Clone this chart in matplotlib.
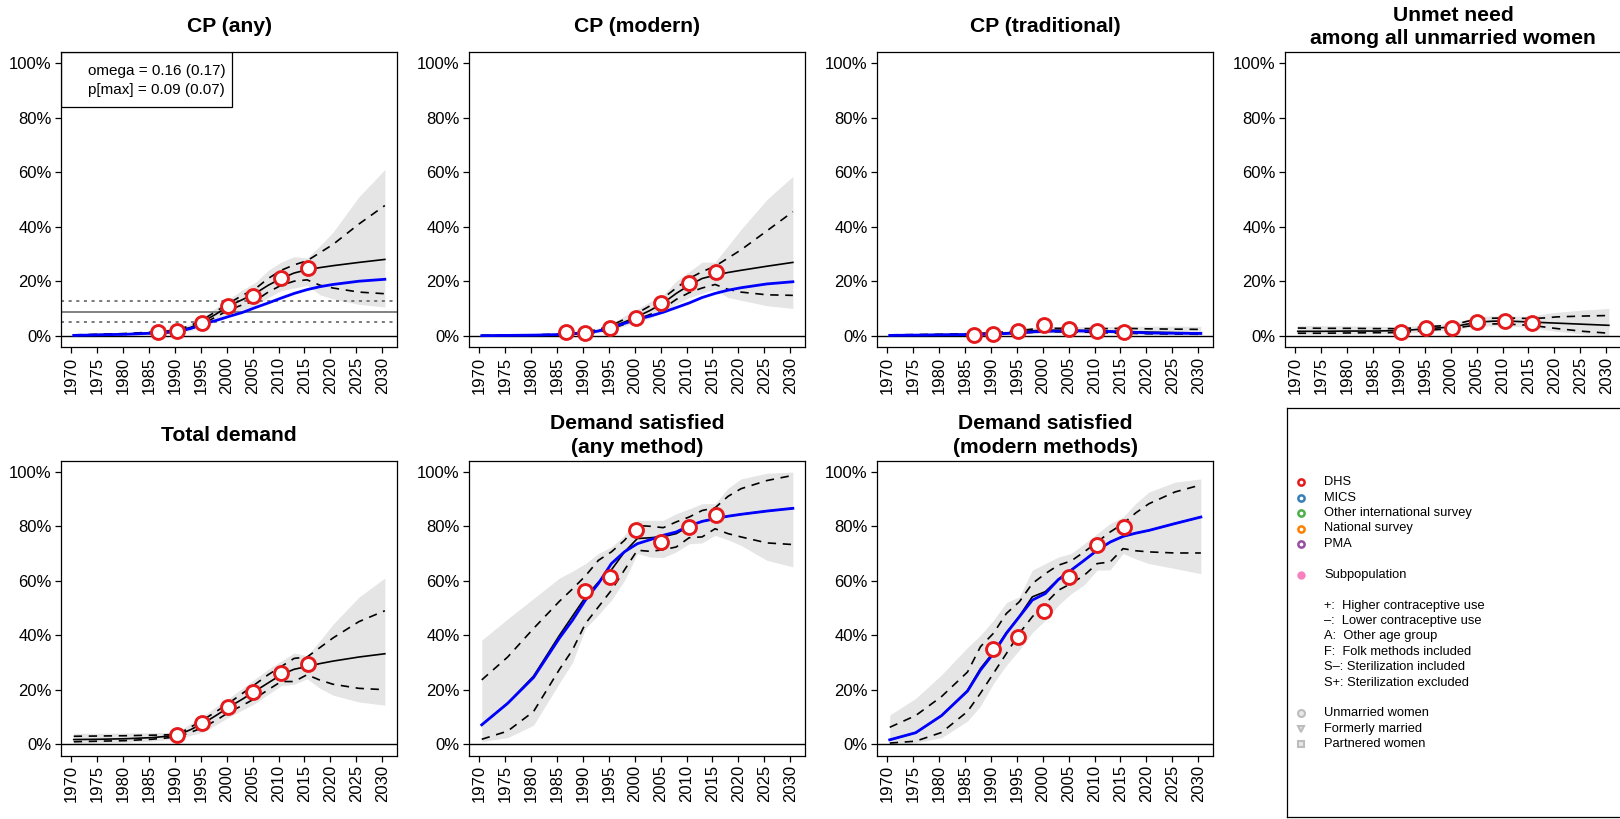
import numpy as np
import matplotlib
matplotlib.use("Agg")
import matplotlib.pyplot as plt
from matplotlib.patches import Rectangle

plt.rcParams['font.family'] = ['Liberation Sans', 'DejaVu Sans']

# ---- data (percent) ----
years = [1970.5, 1975.5, 1980.5, 1985.5, 1988, 1990.5, 1993, 1995.5, 1998, 2000.5,
         2003, 2005.5, 2008, 2010.5, 2013, 2015.5, 2018, 2020.5, 2025.5, 2030.5]

titles = ["CP (any)", "CP (modern)", "CP (traditional)",
          "Unmet need\namong all unmarried women",
          "Total demand", "Demand satisfied\n(any method)",
          "Demand satisfied\n(modern methods)"]

# CP (any)
cpany_med = [0.2, 0.4, 0.6, 1.0, 1.3, 1.8, 3.0, 5.2, 8.0, 11.0, 13.2, 15.5, 18.5, 21.0, 23.0, 24.2, 25.0, 25.7, 26.9, 28.0]
cpany_blue = [0.1, 0.3, 0.5, 0.9, 1.2, 1.6, 2.6, 4.3, 5.6, 7.1, 8.5, 10.3, 12.0, 13.8, 15.5, 16.9, 18.0, 18.8, 20.0, 20.7]
cpany_hi80 = [0.3, 0.5, 0.8, 1.3, 1.6, 2.2, 3.7, 6.0, 9.0, 12.0, 14.8, 17.2, 21.0, 24.0, 26.0, 27.5, 30.5, 33.5, 41.0, 47.8]
cpany_lo80 = [0.1, 0.3, 0.5, 0.8, 1.0, 1.4, 2.4, 4.4, 7.0, 9.5, 11.3, 12.8, 16.0, 18.5, 20.0, 20.5, 18.5, 17.5, 16.0, 15.4]
cpany_hi95 = [0.4, 0.6, 1.0, 1.6, 2.0, 2.7, 4.4, 7.0, 10.3, 13.5, 16.8, 19.5, 24.0, 27.0, 29.0, 28.5, 33.0, 38.0, 51.0, 61.0]
cpany_lo95 = [0.0, 0.1, 0.3, 0.5, 0.7, 1.0, 1.8, 3.6, 6.0, 8.0, 9.5, 11.0, 14.0, 16.5, 17.5, 18.5, 15.0, 13.5, 11.5, 10.5]
cpany_obs = [1.5, 1.7, 4.8, 10.9, 14.5, 21.1, 25.0]

# CP (modern)
cpmod_med = [0.0, 0.1, 0.2, 0.4, 0.7, 1.1, 1.8, 3.2, 5.0, 7.0, 9.3, 12.0, 15.5, 18.5, 21.0, 22.2, 23.2, 24.0, 25.5, 26.9]
cpmod_blue = [0.0, 0.1, 0.2, 0.4, 0.7, 1.0, 1.7, 3.0, 4.5, 6.0, 7.2, 8.6, 10.3, 12.0, 14.0, 15.5, 16.7, 17.6, 19.0, 19.8]
cpmod_hi80 = [0.1, 0.2, 0.3, 0.6, 0.9, 1.4, 2.3, 3.8, 6.0, 8.3, 11.0, 13.8, 17.5, 21.0, 23.5, 25.5, 28.5, 31.5, 38.5, 45.5]
cpmod_lo80 = [0.0, 0.0, 0.1, 0.3, 0.5, 0.8, 1.3, 2.5, 4.2, 6.0, 7.8, 10.0, 13.3, 15.8, 17.5, 18.8, 17.0, 16.0, 15.0, 14.8]
cpmod_hi95 = [0.1, 0.2, 0.4, 0.8, 1.1, 1.7, 2.8, 4.6, 7.2, 9.8, 12.5, 15.0, 20.0, 23.5, 27.0, 27.0, 33.0, 39.0, 50.0, 58.5]
cpmod_lo95 = [0.0, 0.0, 0.0, 0.2, 0.3, 0.5, 1.0, 2.0, 3.5, 5.0, 6.5, 8.5, 11.5, 14.0, 15.5, 17.0, 14.0, 13.0, 11.0, 10.0]
cpmod_obs = [1.3, 1.1, 3.0, 6.6, 11.9, 19.5, 23.5]

# CP (traditional)
cptrad_med = [0.2, 0.3, 0.4, 0.5, 0.6, 0.8, 1.0, 1.4, 1.8, 2.0, 2.0, 2.0, 1.9, 1.8, 1.6, 1.5, 1.4, 1.3, 1.1, 1.0]
cptrad_blue = [0.1, 0.2, 0.3, 0.4, 0.5, 0.6, 0.8, 1.1, 1.4, 1.6, 1.7, 1.8, 1.7, 1.6, 1.5, 1.4, 1.2, 1.0, 0.9, 0.8]
cptrad_hi80 = [0.3, 0.4, 0.5, 0.7, 0.9, 1.1, 1.4, 1.9, 2.4, 2.7, 2.7, 2.7, 2.6, 2.6, 2.6, 2.7, 2.6, 2.5, 2.4, 2.3]
cptrad_lo80 = [0.1, 0.2, 0.2, 0.3, 0.4, 0.5, 0.7, 0.9, 1.2, 1.4, 1.4, 1.4, 1.3, 1.2, 1.0, 0.9, 0.8, 0.7, 0.6, 0.5]
cptrad_hi95 = [0.4, 0.5, 0.7, 0.9, 1.1, 1.4, 1.8, 2.4, 3.0, 3.3, 3.4, 3.4, 3.3, 3.3, 3.4, 3.5, 3.5, 3.5, 3.5, 3.4]
cptrad_lo95 = [0.0, 0.1, 0.1, 0.2, 0.3, 0.3, 0.4, 0.6, 0.8, 1.0, 1.0, 1.0, 0.9, 0.8, 0.7, 0.6, 0.5, 0.4, 0.3, 0.2]
cptrad_obs = [0.4, 0.7, 1.7, 3.9, 2.4, 1.7, 1.3]

# Unmet need among unmarried women
unmet_med = [1.6, 1.6, 1.7, 1.7, 1.8, 1.8, 2.2, 2.6, 2.9, 3.2, 4.2, 5.0, 5.3, 5.4, 5.2, 5.0, 4.8, 4.6, 4.2, 3.8]
unmet_hi80 = [2.8, 2.7, 2.7, 2.6, 2.6, 2.5, 2.9, 3.3, 3.6, 3.9, 5.2, 6.2, 6.4, 6.5, 6.4, 6.3, 6.5, 6.9, 7.2, 7.4]
unmet_lo80 = [0.9, 0.9, 1.0, 1.1, 1.1, 1.2, 1.6, 2.0, 2.3, 2.6, 3.4, 4.0, 4.3, 4.4, 4.0, 3.8, 3.2, 2.6, 1.6, 0.9]
unmet_hi95 = [3.8, 3.7, 3.6, 3.5, 3.4, 3.3, 3.6, 4.0, 4.3, 4.7, 6.0, 7.0, 7.3, 7.3, 7.2, 7.1, 8.0, 8.6, 9.4, 10.0]
unmet_lo95 = [0.3, 0.4, 0.5, 0.6, 0.7, 0.8, 1.1, 1.5, 1.8, 2.1, 2.9, 3.4, 3.6, 3.7, 3.3, 3.0, 2.2, 1.6, 0.6, 0.0]
unmet_obs = [1.5, 3.0, 2.9, 5.1, 5.5, 4.8]

# Total demand
tot_med = [1.7, 1.8, 2.0, 2.4, 2.8, 3.3, 5.3, 7.7, 10.6, 13.7, 16.5, 19.5, 22.5, 25.5, 27.5, 28.5, 29.6, 30.5, 32.0, 33.2]
tot_hi80 = [2.9, 3.0, 3.1, 3.3, 3.4, 3.6, 6.2, 9.0, 12.0, 15.2, 18.6, 22.0, 25.5, 28.5, 31.5, 32.0, 35.5, 39.0, 45.0, 49.0]
tot_lo80 = [0.9, 1.1, 1.3, 1.8, 2.2, 2.7, 4.3, 6.2, 8.8, 11.8, 14.2, 16.8, 20.0, 23.0, 23.0, 25.5, 23.5, 22.0, 20.5, 20.0]
tot_hi95 = [4.0, 4.0, 4.1, 4.2, 4.3, 4.5, 7.5, 10.5, 13.8, 17.0, 20.5, 24.0, 27.5, 30.5, 33.5, 32.5, 38.0, 44.0, 54.0, 61.0]
tot_lo95 = [0.0, 0.4, 0.7, 1.1, 1.5, 2.0, 3.2, 4.5, 7.2, 10.0, 12.5, 15.0, 18.3, 21.5, 22.0, 24.0, 20.5, 18.0, 15.5, 14.3]
tot_obs = [3.2, 7.9, 13.7, 19.3, 26.3, 29.6]

# Demand satisfied (any method)
dsany_med = [7.1, 15.0, 25.0, 40.0, 47.0, 54.0, 59.5, 64.0, 70.5, 75.5, 75.8, 76.2, 77.3, 80.0, 81.8, 82.8, 83.7, 84.4, 85.6, 86.6]
dsany_blue = [7.1, 15.0, 24.5, 39.0, 45.5, 52.9, 59.0, 66.3, 70.6, 73.6, 75.1, 76.7, 77.9, 80.2, 81.8, 82.8, 83.7, 84.4, 85.6, 86.6]
dsany_hi80 = [23.6, 32.0, 42.5, 52.5, 57.0, 61.8, 67.5, 70.6, 74.8, 80.3, 80.0, 79.5, 81.6, 83.4, 85.8, 86.8, 91.0, 93.8, 96.8, 98.7]
dsany_lo80 = [1.8, 4.8, 12.0, 27.5, 34.6, 44.3, 50.4, 56.5, 63.9, 71.2, 70.8, 71.4, 72.4, 75.8, 76.1, 79.1, 77.3, 76.1, 73.9, 73.3]
dsany_hi95 = [38.2, 46.0, 53.5, 61.0, 63.5, 66.3, 70.0, 72.4, 76.7, 82.2, 82.2, 82.2, 84.6, 86.4, 88.3, 88.3, 94.0, 97.4, 99.5, 99.9]
dsany_lo95 = [1.0, 2.4, 7.0, 22.5, 30.0, 42.5, 47.5, 52.9, 60.0, 70.0, 68.7, 68.5, 70.6, 73.6, 73.9, 76.7, 75.0, 73.0, 67.5, 65.1]
dsany_obs = [56.3, 61.4, 78.5, 74.1, 79.7, 84.1]

# Demand satisfied (modern methods)
dsmod_med = [1.6, 4.2, 10.5, 19.8, 27.8, 33.8, 41.0, 47.0, 54.1, 56.0, 60.5, 64.0, 67.5, 71.2, 74.2, 76.3, 77.5, 78.5, 81.0, 83.4]
dsmod_blue = [1.6, 4.2, 10.5, 19.5, 27.2, 33.3, 40.7, 46.8, 52.9, 55.3, 60.4, 63.9, 67.5, 71.2, 74.2, 76.3, 77.5, 78.5, 81.0, 83.4]
dsmod_hi80 = [6.2, 10.5, 17.5, 26.5, 35.8, 40.7, 48.0, 52.3, 59.0, 62.6, 65.7, 67.3, 70.6, 74.2, 77.9, 81.0, 85.0, 88.3, 92.6, 95.2]
dsmod_lo80 = [0.4, 1.1, 4.3, 12.0, 18.7, 26.0, 33.3, 40.7, 46.8, 51.6, 56.5, 59.0, 62.0, 66.3, 66.9, 71.8, 71.0, 70.6, 70.2, 70.2]
dsmod_hi95 = [10.7, 16.8, 25.5, 35.5, 40.0, 45.5, 52.0, 54.1, 63.9, 66.3, 68.7, 70.0, 73.6, 77.3, 81.0, 83.4, 88.5, 92.6, 96.2, 97.4]
dsmod_lo95 = [0.0, 0.5, 2.4, 8.5, 14.0, 22.3, 29.0, 34.6, 41.0, 45.5, 51.0, 55.3, 58.5, 63.9, 64.0, 70.0, 68.0, 66.3, 64.5, 62.6]
dsmod_obs = [34.8, 39.3, 48.8, 61.3, 73.0, 79.6]

obs_years7 = [1986.8, 1990.4, 1995.3, 2000.3, 2005.1, 2010.4, 2015.6]
obs_years6 = [1990.4, 1995.3, 2000.3, 2005.1, 2010.4, 2015.6]

panels = [
    (cpany_med, cpany_blue, cpany_hi80, cpany_lo80, cpany_hi95, cpany_lo95, obs_years7, cpany_obs),
    (cpmod_med, cpmod_blue, cpmod_hi80, cpmod_lo80, cpmod_hi95, cpmod_lo95, obs_years7, cpmod_obs),
    (cptrad_med, cptrad_blue, cptrad_hi80, cptrad_lo80, cptrad_hi95, cptrad_lo95, obs_years7, cptrad_obs),
    (unmet_med, None, unmet_hi80, unmet_lo80, unmet_hi95, unmet_lo95, obs_years6, unmet_obs),
    (tot_med, None, tot_hi80, tot_lo80, tot_hi95, tot_lo95, obs_years6, tot_obs),
    (dsany_med, dsany_blue, dsany_hi80, dsany_lo80, dsany_hi95, dsany_lo95, obs_years6, dsany_obs),
    (dsmod_med, dsmod_blue, dsmod_hi80, dsmod_lo80, dsmod_hi95, dsmod_lo95, obs_years6, dsmod_obs),
]

# reference lines for CP (any): unmarried-women level and bounds
ref_level = 8.7
ref_bounds = [12.7, 5.2]

legend_sources = ["DHS", "MICS", "Other international survey", "National survey", "PMA"]
legend_colors = ["#E41A1C", "#377EB8", "#4DAF4A", "#FF7F00", "#984EA3"]
legend_notes = ["+:  Higher contraceptive use", "\u2013:  Lower contraceptive use",
                "A:  Other age group", "F:  Folk methods included",
                "S\u2013: Sterilization included", "S+: Sterilization excluded"]
legend_groups = ["Unmarried women", "Formerly married", "Partnered women"]
legend_group_markers = ["o", "v", "s"]

# ---- layout ----
W, H = 1620, 819
fig = plt.figure(figsize=(W / 100, H / 100), dpi=100)

col_left = [61.3, 469.3, 877.3, 1285.3]
row_top = [52, 460.5]
aw, ah = 336, 295


def add_ax(left, top, w, h):
    return fig.add_axes([left / W, 1 - (top + h) / H, w / W, h / H])


axes = []
for i in range(7):
    r, c = divmod(i, 4)
    axes.append(add_ax(col_left[c], row_top[r], aw, ah))

band = "#E5E5E5"
yr = np.array(years)
for i, ax in enumerate(axes):
    med, blue, hi80, lo80, hi95, lo95, oy, ov = panels[i]
    ax.fill_between(yr, np.array(lo95) / 100, np.array(hi95) / 100,
                    color=band, lw=0, zorder=1)
    if i == 0:
        ax.axhline(ref_level / 100, color="#777777", lw=1.3, zorder=2)
        for b in ref_bounds:
            ax.axhline(b / 100, color="#555555", lw=1.1, ls=(0, (2, 3)), zorder=2)
    ax.axhline(0, color="black", lw=1.0, zorder=2)
    ax.plot(yr, np.array(hi80) / 100, color="black", lw=1.2, ls=(0, (5, 4)), zorder=3)
    ax.plot(yr, np.array(lo80) / 100, color="black", lw=1.2, ls=(0, (5, 4)), zorder=3)
    ax.plot(yr, np.array(med) / 100, color="black", lw=1.2, zorder=4)
    if blue is not None:
        ax.plot(yr, np.array(blue) / 100, color="#0000FF", lw=2.0, zorder=5)
    ax.plot(oy, np.array(ov) / 100, ls="none", marker="o", ms=10, mew=2.1,
            mfc="white", mec="#E41A1C", zorder=6)

    ax.set_xlim(1968.1, 2032.9)
    ax.set_ylim(-0.0416, 1.0416)
    ax.set_xticks(range(1970, 2031, 5))
    ax.set_xticklabels([str(y) for y in range(1970, 2031, 5)], rotation=90, fontsize=12)
    ax.set_yticks([0, 0.2, 0.4, 0.6, 0.8, 1.0])
    ax.set_yticklabels(["0%", "20%", "40%", "60%", "80%", "100%"], fontsize=12)
    ax.tick_params(length=4, width=0.9, pad=3, color="black")
    for s in ax.spines.values():
        s.set_linewidth(0.9)
    ax.text(0.5, 1.085, titles[i], transform=ax.transAxes, ha="center", va="center",
            fontsize=15.2, fontweight="bold", linespacing=1.3)

# omega box on CP (any)
ax0 = axes[0]
ax0.add_patch(Rectangle((0, 0.8136), 0.508, 0.1864, transform=ax0.transAxes,
                        fill=False, ec="black", lw=0.9, zorder=7))
ax0.text(0.0795, 0.9356, "omega = 0.16 (0.17)", transform=ax0.transAxes,
         ha="left", va="center", fontsize=11, zorder=8)
ax0.text(0.0795, 0.871, "p[max] = 0.09 (0.07)", transform=ax0.transAxes,
         ha="left", va="center", fontsize=11, zorder=8)

# legend panel
lw_, lh_ = 340, 409
lax = add_ax(1286.7, 408, lw_, lh_)
lax.set_xlim(0, lw_)
lax.set_ylim(lh_, 0)
lax.set_xticks([])
lax.set_yticks([])
for s in lax.spines.values():
    s.set_linewidth(0.9)

y0, dy = 74.3, 15.4
mx, tx = 14, 37.3
fs = 9.3
for k, (lab, col) in enumerate(zip(legend_sources, legend_colors)):
    yy = y0 + dy * k
    lax.plot(mx, yy, marker="o", ms=4.5, mew=1.8, mfc="white", mec=col)
    lax.text(tx, yy, lab, fontsize=fs, va="center", ha="left")
yy = y0 + dy * 6
lax.plot(mx, yy, marker="o", ms=6, mew=0, mfc="#F781BF")
lax.text(tx, yy, "Subpopulation", fontsize=fs, va="center", ha="left")
for k, lab in enumerate(legend_notes):
    lax.text(tx, y0 + dy * (8 + k), lab, fontsize=fs, va="center", ha="left")
for k, (lab, m) in enumerate(zip(legend_groups, legend_group_markers)):
    yy = y0 + dy * (15 + k)
    lax.plot(mx, yy, marker=m, ms=5, mew=1.5, mfc="#E8E8E8", mec="#BDBDBD")
    lax.text(tx, yy, lab, fontsize=fs, va="center", ha="left")

fig.savefig("out.png", dpi=100)
